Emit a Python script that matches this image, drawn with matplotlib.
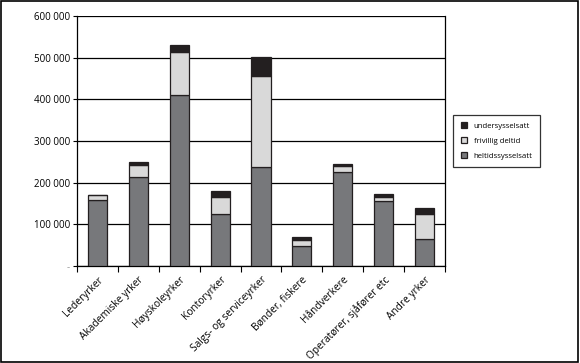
import matplotlib.pyplot as plt
import numpy as np
from matplotlib.patches import Rectangle

categories = ['Lederyrker', 'Akademiske yrker', 'Høyskoleyrker', 'Kontoryrker',
              'Salgs- og serviceyrker', 'Bønder, fiskere', 'Håndverkere',
              'Operatører, sjåfører etc', 'Andre yrker']
heltid = [158000, 213000, 410000, 126000, 237000, 49000, 226000, 155000, 64000]
frivillig = [12000, 30000, 104000, 40000, 219000, 14000, 14000, 11000, 62000]
under = [0, 6000, 16000, 13000, 45000, 6000, 5000, 6000, 14000]
yticks = [0, 100000, 200000, 300000, 400000, 500000, 600000]
ylabels = ['-', '100 000', '200 000', '300 000', '400 000', '500 000', '600 000']

plt.rcParams['font.family'] = 'Open Sans'
fig = plt.figure(figsize=(5.8, 3.63), dpi=100)
ax = fig.add_axes([77/580, (363-266)/363, 368/580, 250/363])

x = np.arange(len(categories))
heltid = np.array(heltid)
frivillig = np.array(frivillig)
under = np.array(under)
w = 0.47
kw = dict(width=w, edgecolor='#231f20', linewidth=0.9, zorder=3)
b1 = ax.bar(x, heltid, color='#77787b', label='heltidssysselsatt', **kw)
b2 = ax.bar(x, frivillig, bottom=heltid, color='#d9d9d9', label='frivillig deltid', **kw)
b3 = ax.bar(x, under, bottom=heltid + frivillig, color='#231f20', label='undersysselsatt', **kw)

ax.set_xlim(-0.5, len(categories) - 0.5)
ax.set_ylim(0, 600000)
ax.set_yticks(yticks)
ax.set_yticklabels(ylabels, fontsize=7)
ax.get_yticklabels()[0].set_color('#999999')
ax.yaxis.grid(True, color='black', linewidth=0.9, zorder=0)
ax.tick_params(axis='y', length=3, width=0.8, pad=2)

ax.set_xticks(x)
ax.set_xticklabels(categories, rotation=45, ha='right', rotation_mode='anchor', fontsize=7.3)
ax.set_xticks(np.arange(len(categories) + 1) - 0.5, minor=True)
ax.tick_params(axis='x', which='major', length=0, pad=6)
ax.tick_params(axis='x', which='minor', length=4, width=0.8, direction='out')

ax.spines['top'].set_visible(False)
for s in ['left', 'right', 'bottom']:
    ax.spines[s].set_linewidth(0.9)

leg = ax.legend(handles=[b3, b2, b1], loc='center left', bbox_to_anchor=(1.012, 0.5),
                fontsize=5.6, frameon=True, fancybox=False, edgecolor='black',
                handlelength=0.7, handleheight=0.7, borderpad=1.0, labelspacing=0.95,
                handletextpad=0.9)
leg.get_frame().set_linewidth(0.9)

fig.patches.append(Rectangle((0.002, 0.004), 0.994, 0.992, transform=fig.transFigure,
                             fill=False, edgecolor='black', linewidth=1.2))

fig.savefig('out.png', dpi=100)
